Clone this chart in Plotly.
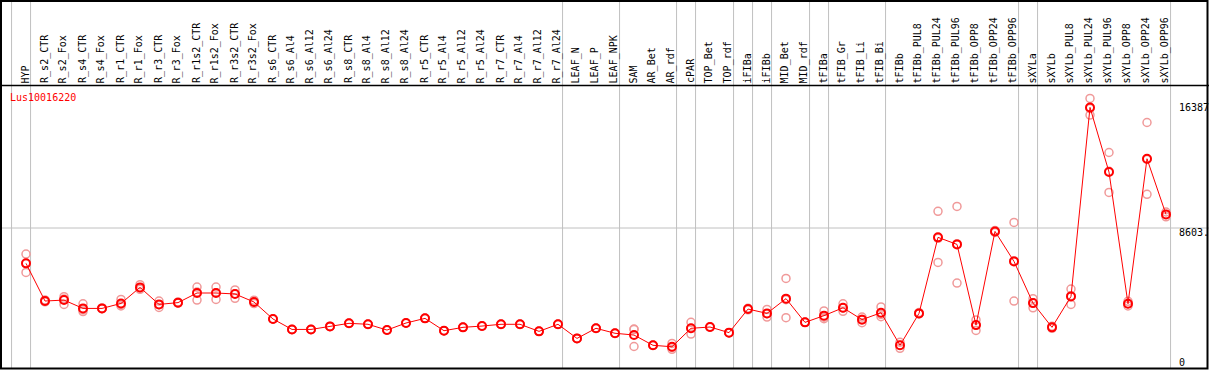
import plotly.graph_objects as go

categories = ["HYP", "R_s2_CTR", "R_s2_Fox", "R_s4_CTR", "R_s4_Fox", "R_r1_CTR", "R_r1_Fox",
              "R_r3_CTR", "R_r3_Fox", "R_r1s2_CTR", "R_r1s2_Fox", "R_r3s2_CTR", "R_r3s2_Fox",
              "R_s6_CTR", "R_s6_Al4", "R_s6_Al12", "R_s6_Al24", "R_s8_CTR", "R_s8_Al4", "R_s8_Al12",
              "R_s8_Al24", "R_r5_CTR", "R_r5_Al4", "R_r5_Al12", "R_r5_Al24", "R_r7_CTR", "R_r7_Al4",
              "R_r7_Al12", "R_r7_Al24", "LEAF_N", "LEAF_P", "LEAF_NPK", "SAM", "AR_Bet", "AR_rdf",
              "cPAR", "TOP_Bet", "TOP_rdf", "iFIBa", "iFIBb", "MID_Bet", "MID_rdf", "tFIBa",
              "tFIB_Gr", "tFIB_Li", "tFIB_Bi", "tFIBb", "tFIBb_PUL8", "tFIBb_PUL24", "tFIBb_PUL96",
              "tFIBb_OPP8", "tFIBb_OPP24", "tFIBb_OPP96", "sXYLa", "sXYLb", "sXYLb_PUL8",
              "sXYLb_PUL24", "sXYLb_PUL96", "sXYLb_OPP8", "sXYLb_OPP24", "sXYLb_OPP96"]

mean_values = [6400, 4050, 4110, 3590, 3590, 3900, 4900, 3840, 3950, 4550, 4550, 4490, 3990,
               2930, 2280, 2280, 2470, 2660, 2600, 2240, 2680, 2970, 2200, 2410, 2490, 2600, 2600,
               2160, 2600, 1720, 2350, 2040, 1930, 1290, 1200, 2350, 2430, 2080, 3550, 3280, 4200,
               2720, 3140, 3630, 2890, 3320, 1290, 3280, 8020, 7580, 2550, 8390, 6520, 3920, 2410,
               4340, 16120, 12090, 3880, 12920, 9450]

rep1 = [6980, 4120, 4320, 3880, 3620, 4150, 5070, 4050, 3990, 4920, 4920, 4740, 4100,
        2930, 2280, 2280, 2470, 2660, 2600, 2240, 2680, 2970, 2200, 2410, 2490, 2600, 2600,
        2160, 2600, 1720, 2350, 2040, 2300, 1290, 1410, 2720, 2430, 2080, 3600, 3530, 5460,
        2720, 3430, 3880, 3050, 3680, 1480, 3330, 9640, 9950, 2870, 8450, 8950, 4200, 2480,
        4800, 16680, 13310, 4030, 15180, 9600]
rep2 = [6390, 4000, 4170, 3500, 3580, 3820, 4860, 3820, 3940, 4610, 4570, 4510, 3980,
        2930, 2280, 2280, 2470, 2660, 2600, 2240, 2680, 2970, 2200, 2410, 2490, 2600, 2600,
        2160, 2600, 1720, 2350, 2040, 2280, 1290, 1150, 2340, 2430, 2080, 3550, 3260, 4130,
        2720, 3040, 3610, 2920, 3210, 1290, 3260, 7960, 7620, 2570, 8390, 6560, 3940, 2400,
        4380, 16050, 12140, 3880, 12880, 9450]
rep3 = [5830, 4030, 3840, 3390, 3570, 3740, 4780, 3650, 3920, 4110, 4150, 4220, 3890,
        2930, 2280, 2280, 2470, 2660, 2600, 2240, 2680, 2970, 2200, 2410, 2490, 2600, 2600,
        2160, 2600, 1720, 2350, 2040, 1215, 1290, 1040, 1990, 2430, 2080, 3500, 3050, 3010,
        2720, 2950, 3410, 2700, 3070, 1100, 3250, 6460, 5170, 2220, 8330, 4050, 3630, 2350,
        3840, 15640, 10820, 3740, 10700, 9300]

group_ends = [-1, 0, 28, 31, 34, 35, 37, 38, 39, 41, 42, 45, 52, 53, 60]
gene_id = "Lus10016220"
y_max_label = 16387
y_mid_label = 8603

W, H = 1209, 370
x0_px, dx_px = 26.0, 19.0
zero_px = 366.0
px_per_unit = 138.0 / y_mid_label

xs = list(range(len(categories)))

fig = go.Figure()

rep_x, rep_y = [], []
for r in (rep1, rep2, rep3):
    rep_x += xs
    rep_y += r
fig.add_trace(go.Scatter(
    x=rep_x, y=rep_y, mode="markers",
    marker=dict(symbol="circle-open", size=8, color="#f09a9a", line=dict(width=1.5, color="#f09a9a")),
    hoverinfo="skip", showlegend=False))
fig.add_trace(go.Scatter(
    x=xs, y=mean_values, mode="lines+markers",
    line=dict(color="#ff0000", width=1),
    marker=dict(symbol="circle-open", size=8, color="#ff0000", line=dict(width=2, color="#ff0000")),
    showlegend=False))

shapes = []
for g in group_ends:
    shapes.append(dict(type="line", xref="x", yref="paper", x0=g + 0.24, x1=g + 0.24,
                       y0=1 - 368 / H, y1=1, line=dict(color="#c0c0c0", width=1), layer="below"))
shapes.append(dict(type="line", xref="paper", yref="y", x0=0, x1=1, y0=y_mid_label, y1=y_mid_label,
                   line=dict(color="#c0c0c0", width=1), layer="below"))
shapes.append(dict(type="line", xref="paper", yref="paper", x0=0, x1=1,
                   y0=1 - 85.5 / H, y1=1 - 85.5 / H, line=dict(color="black", width=1.5)))
shapes.append(dict(type="rect", xref="paper", yref="paper",
                   x0=1.0 / W, x1=1207.5 / W, y0=1 - 368.5 / H, y1=1 - 1.0 / H,
                   line=dict(color="black", width=2)))

font = dict(family="DejaVu Sans Mono", size=10, color="black")
annotations = []
for i, c in enumerate(categories):
    annotations.append(dict(x=i - 0.03, y=1 - 84 / H, xref="x", yref="paper", text=c,
                            textangle=-90, showarrow=False, xanchor="center", yanchor="bottom",
                            font=font, borderpad=0))
annotations.append(dict(x=8.5 / W, y=1 - 97.5 / H, xref="paper", yref="paper", text=gene_id,
                        showarrow=False, xanchor="left", yanchor="middle",
                        font=dict(family="DejaVu Sans Mono", size=10, color="#ff0000"), borderpad=0))
for val, txt, sh in [(y_max_label, str(y_max_label), -4), (y_mid_label, f"{y_mid_label}.", -4), (0, "0", 4)]:
    annotations.append(dict(x=1177.5 / W, y=val, xref="paper", yref="y", text=txt, showarrow=False,
                            xanchor="left", yanchor="middle", yshift=sh, font=font, borderpad=0))

fig.update_layout(
    width=W, height=H, autosize=False,
    margin=dict(l=0, r=0, t=0, b=0, pad=0),
    paper_bgcolor="white", plot_bgcolor="white",
    xaxis=dict(range=[-x0_px / dx_px, (W - x0_px) / dx_px], visible=False, fixedrange=True),
    yaxis=dict(range=[-(H - zero_px) / px_per_unit, zero_px / px_per_unit], visible=False, fixedrange=True),
    shapes=shapes, annotations=annotations, showlegend=False,
)

fig.write_html("out.html", config={"displayModeBar": False},
               post_script="document.body.style.margin='0';document.body.style.padding='0';"
                           "document.body.style.overflow='hidden';")
